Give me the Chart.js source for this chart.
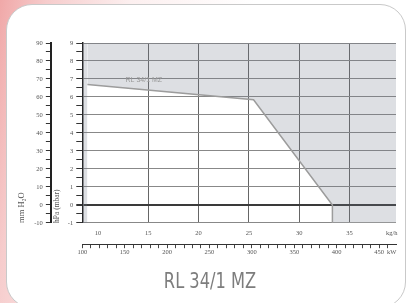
<!DOCTYPE html>
<html>
<head>
<meta charset="utf-8">
<script src="https://cdn.jsdelivr.net/npm/chart.js@4.4.1/dist/chart.umd.min.js"></script>
<style>
html, body {
  margin: 0; padding: 0; width: 412px; height: 303px; overflow: hidden;
  background: linear-gradient(100deg, #f0a8a8 0%, #f6cccc 10%, #fcefef 28%, #ffffff 55%);
}
#card {
  position: absolute; left: 6px; top: 4px; width: 398px; height: 302px;
  background: #fff; border: 1.5px solid #c9c9c9; border-radius: 26px;
}
#wrap { position: absolute; left: 0; top: 0; width: 412px; height: 303px; }
#name {
  position: absolute; left: 4px; width: 412px; top: 269px; text-align: center;
  font-family: 'Liberation Sans Narrow', 'DejaVu Sans Condensed', sans-serif;
  font-size: 21px; color: #7d7d7d; transform: scaleX(0.86); transform-origin: 206px 0;
}
</style>
</head>
<body>
<div id="card"></div>
<div id="wrap"><canvas id="fieldChart" width="412" height="303"></canvas></div>
<div id="name"></div>
<script>
// firing field boundary: output (kW) vs combustion chamber pressure (mbar)
const fieldPowerKW = [100, 106, 106, 302, 395, 395, 470];
const fieldPressure = [-1, -1, 6.7, 5.85, 0, -1, -1];

const kwLabels = [100, 150, 200, 250, 300, 350, 400, 450];
const kgLabels = [10, 15, 20, 25, 30, 35];
const mbarLabels = [-1, 0, 1, 2, 3, 4, 5, 6, 7, 8, 9];
const mmLabels = [-10, 0, 10, 20, 30, 40, 50, 60, 70, 80, 90];

const burnerName = 'RL 34/1 MZ';
const KW_PER_KG = 11.86;
const KW_MIN = 100, KW_MAX = 470, UNIT_KW = 465;

document.getElementById('name').textContent = burnerName;

const tickFont = { family: 'Liberation Serif', size: 6.5 };
const tickCol = '#555';

const curveLabel = {
  id: 'curveLabel',
  afterDatasetsDraw(chart) {
    const c = chart.ctx;
    c.save();
    c.font = '7px Liberation Sans';
    c.fillStyle = '#999';
    c.textBaseline = 'bottom';
    c.fillText(burnerName, chart.scales.kw.getPixelForValue(151), chart.scales.mbar.getPixelForValue(6.72));
    c.restore();
  }
};

function setupChart() {
  let ctx = document.getElementById('fieldChart');
  let points = fieldPowerKW.map((kw, i) => ({ x: kw, y: fieldPressure[i] }));
  return new Chart(ctx, {
    type: 'line',
    data: {
      datasets: [{
        data: points,
        xAxisID: 'kw',
        yAxisID: 'mbar',
        borderColor: '#9c9c9c',
        borderWidth: 1.5,
        segment: { borderColor: c => c.p0DataIndex < 2 ? 'transparent' : undefined },
        backgroundColor: 'rgba(112,120,140,0.24)',
        fill: 'end',
        pointRadius: 0,
        tension: 0
      }]
    },
    options: {
      responsive: false,
      animation: { duration: 0 },
      layout: { padding: { left: 15, right: 16, top: 43, bottom: 47 } },
      plugins: { legend: { display: false }, tooltip: { enabled: false } },
      scales: {
        kg: {
          type: 'linear', position: 'bottom', weight: 0,
          min: KW_MIN / KW_PER_KG, max: KW_MAX / KW_PER_KG,
          afterBuildTicks: s => { s.ticks = kgLabels.concat([UNIT_KW / KW_PER_KG]).map(v => ({ value: v })); },
          ticks: {
            autoSkip: false, maxRotation: 0, padding: 9, color: tickCol,
            font: { family: 'Liberation Serif', size: 6.5, lineHeight: 0.5 },
            callback: v => kgLabels.includes(v) ? v : 'kg/h'
          },
          grid: {
            drawTicks: false,
            color: c => (c.tick && c.tick.value > 10 && c.tick.value <= 35) ? '#666' : 'transparent'
          },
          border: { display: false }
        },
        kw: {
          type: 'linear', position: 'bottom', weight: 1,
          min: KW_MIN, max: KW_MAX,
          afterBuildTicks: s => {
            let t = [];
            for (let v = KW_MIN; v <= 460; v += 10) t.push({ value: v });
            t.push({ value: UNIT_KW });
            s.ticks = t;
          },
          ticks: {
            autoSkip: false, maxRotation: 0, padding: 0, font: tickFont, color: tickCol,
            callback: v => kwLabels.includes(v) ? v : (v === UNIT_KW ? 'kW' : '')
          },
          grid: {
            drawOnChartArea: false, tickLength: 4,
            tickColor: c => (c.tick && c.tick.value === UNIT_KW) ? 'transparent' : '#444'
          },
          border: { display: true, color: '#333', width: 1 }
        },
        mbar: {
          type: 'linear', position: 'left', weight: 0,
          min: -1, max: 9,
          ticks: {
            stepSize: 0.5, autoSkip: false, padding: 3, font: tickFont, color: tickCol,
            callback: v => mbarLabels.includes(v) ? v : ''
          },
          grid: {
            tickLength: 6, tickColor: '#333',
            color: c => {
              if (!c.tick || !Number.isInteger(c.tick.value)) return 'transparent';
              return c.tick.value === 0 ? '#3a3a3a' : '#888';
            },
            lineWidth: c => (c.tick && c.tick.value === 0) ? 2 : 1
          },
          border: { color: '#222', width: 1.5 },
          title: { display: true, text: 'hPa (mbar)', align: 'start', padding: { top: 2, bottom: 3 }, font: { family: 'Liberation Serif', size: 7.5 }, color: tickCol }
        },
        mm: {
          type: 'linear', position: 'left', weight: 1,
          min: -10, max: 90,
          ticks: {
            stepSize: 5, autoSkip: false, padding: 3, font: tickFont, color: tickCol,
            callback: v => mmLabels.includes(v) ? v : ''
          },
          grid: { drawOnChartArea: false, tickLength: 5, tickColor: '#333' },
          border: { color: '#222', width: 2 },
          title: { display: true, text: 'mm H₂O', align: 'start', padding: { top: 2, bottom: 4 }, font: { family: 'Liberation Serif', size: 8.5 }, color: tickCol }
        }
      }
    },
    plugins: [curveLabel]
  });
}

setupChart();
</script>
</body>
</html>
